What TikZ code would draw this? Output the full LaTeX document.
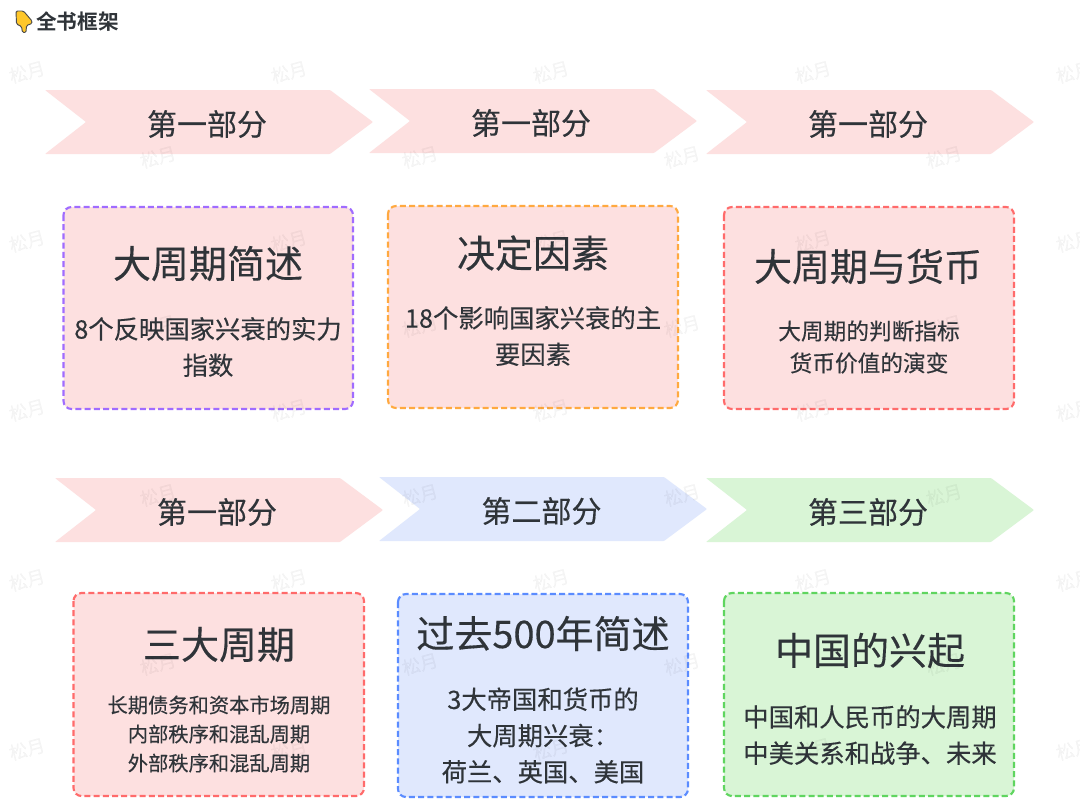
\documentclass[tikz,border=0pt]{standalone}
\usepackage{fontspec}
\setmainfont{Noto Sans CJK SC}[FakeBold=0.3]
\newfontfamily\titlefont{Noto Sans CJK SC Bold}
\definecolor{ink}{HTML}{2F3439}
\definecolor{pinkfill}{HTML}{FDE0E0}
\definecolor{bluefill}{HTML}{E0E8FD}
\definecolor{greenfill}{HTML}{D9F5D6}
\definecolor{redline}{HTML}{FF6B6B}
\definecolor{purpleline}{HTML}{A06CFF}
\definecolor{orangeline}{HTML}{FFA940}
\definecolor{blueline}{HTML}{5B8CFF}
\definecolor{greenline}{HTML}{5FD55F}
\newcommand{\fsz}[1]{\fontsize{#1}{#1}\selectfont}
\newcommand{\banner}[3]{% left x, top y, fill
  \fill[#3,rounded corners=0.6pt] (#1,#2) -- ({#1+285},#2) -- ({#1+328},{#2+32}) -- ({#1+285},{#2+64}) -- (#1,{#2+64}) -- ({#1+41},{#2+32}) -- cycle;
}
\newcommand{\panel}[6]{% x0,y0,x1,y1,fill,line
  \draw[panelbox,fill=#5,draw=#6] (#1,#2) rectangle (#3,#4);
}
\tikzset{
  x=0.75pt,y=-0.75pt,
  panelbox/.style={line width=1.6pt,dash pattern=on 4.5pt off 2.4pt,rounded corners=6pt},
  bannertext/.style={text=ink,font=\fsz{22.5},inner sep=0pt},
  headtext/.style={text=ink,font=\fsz{28.5},inner sep=0pt},
  bodya/.style={text=ink,font=\fsz{19},inner sep=0pt,align=center},
  bodyb/.style={text=ink,font=\fsz{17},inner sep=0pt,align=center},
  bodyc/.style={text=ink,font=\fsz{15.2},inner sep=0pt,align=center},
  watermark/.style={text=black,text opacity=0.04,font=\fsz{13.5},rotate=15,inner sep=0pt},
}
\begin{document}
\begin{tikzpicture}
\useasboundingbox (0,0) rectangle (1080,808);
\fill[white] (0,0) rectangle (1080,808);

% title
\draw[black!70,line width=0.7pt,fill=orangeline!65!yellow,rounded corners=1pt,line join=round] (16,11) -- (23.5,11) -- (32,21) -- (32,23.5) -- (26.5,25.5) -- (26,32.5) -- (22.5,32.5) -- (21.5,26.5) -- (16.5,24) -- cycle;
\node[text=ink,font=\fsz{15.5}\titlefont,inner sep=0pt] (title) at (77.5,22) {全书框架};

% banners
\banner{45}{90}{pinkfill}
\banner{369}{89}{pinkfill}
\banner{706}{90}{pinkfill}
\banner{55}{478}{pinkfill}
\banner{379}{477}{bluefill}
\banner{706}{478}{greenfill}
\node[bannertext] (b1) at (207,124) {第一部分};
\node[bannertext] (b2) at (531,123) {第一部分};
\node[bannertext] (b3) at (868,124) {第一部分};
\node[bannertext] (b4) at (217,512) {第一部分};
\node[bannertext] (b5) at (541.5,511) {第二部分};
\node[bannertext] (b6) at (868,512) {第三部分};

% panels
\panel{63.5}{207}{353}{409}{pinkfill}{purpleline}
\panel{388}{206}{678}{408}{pinkfill}{orangeline}
\panel{724}{207}{1014}{409}{pinkfill}{redline}
\panel{73.5}{593}{364}{796}{pinkfill}{redline}
\panel{398}{594}{688}{797}{bluefill}{blueline}
\panel{724}{593}{1014}{796}{greenfill}{greenline}

\node[headtext] (h1) at (208,263.5) {大周期简述};
\node[headtext] (h2) at (533,253) {决定因素};
\node[headtext] (h3) at (868,266.5) {大周期与货币};
\node[headtext] (h4) at (219,644.5) {三大周期};
\node[headtext] (h5) at (543,633.5) {过去500年简述};
\node[headtext] (h6) at (870,650.5) {中国的兴起};

\node[bodya] (t1) at (208,347) {8个反映国家兴衰的实力\\[8.2pt]指数};
\node[bodya] (t2) at (533,336) {18个影响国家兴衰的主\\[8.2pt]要因素};
\node[bodyb] (t3) at (869,347) {大周期的判断指标\\[7pt]货币价值的演变};
\node[bodyc] (t4) at (219,734) {长期债务和资本市场周期\\[6.6pt]内部秩序和混乱周期\\[6.6pt]外部秩序和混乱周期};
\node[bodya] (t5) at (543,735.5) {3大帝国和货币的\\[8.2pt]大周期兴衰：\\[8.2pt]荷兰、英国、美国};
\node[bodya] (t6) at (870,735) {中国和人民币的大周期\\[8.2pt]中美关系和战争、未来};

% watermarks
\foreach \wx/\wn in {27/a,289/b,551/c,813/d,1074/e}
  \foreach \wy/\wm in {72/a,241/b,410/c,580/d,749/e}
    \node[watermark] (w\wn\wm) at (\wx,\wy) {松月};
\foreach \wx/\wn in {158/f,420/g,682/h,944/i}
  \foreach \wy/\wm in {157/a,326/b,495/c,664/d}
    \node[watermark] (w\wn\wm) at (\wx,\wy) {松月};
\end{tikzpicture}
\end{document}
